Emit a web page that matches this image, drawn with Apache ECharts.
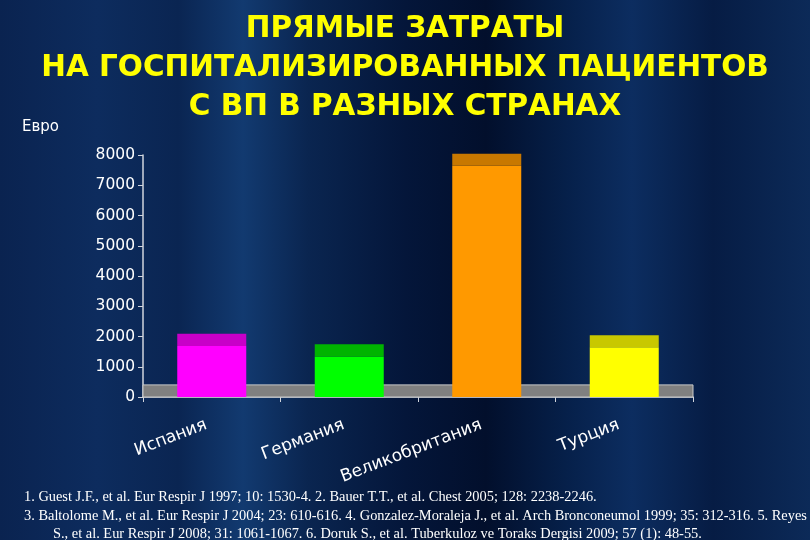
<!DOCTYPE html>
<html><head><meta charset="utf-8">
<script src="https://cdn.jsdelivr.net/npm/echarts@6/dist/echarts.min.js"></script>
<style>html,body{margin:0;padding:0;background:#061838;}#c{width:810px;height:540px;}</style>
</head><body><div id="c"></div>
<script>
const categories = ['Испания', 'Германия', 'Великобритания', 'Турция'];
const values = [2090, 1740, 8045, 2045];           // top of each 3D bar, euro
const capDepth = 400;                               // depth of the 3D top face, euro
const floorDepth = 400;                             // depth of the 3D floor, euro
const yTicks = {min: 0, max: 8000, interval: 1000};
const titleLines = ['ПРЯМЫЕ ЗАТРАТЫ', 'НА ГОСПИТАЛИЗИРОВАННЫХ ПАЦИЕНТОВ', 'С ВП В РАЗНЫХ СТРАНАХ'];
const unitLabel = 'Евро';
const footnotes = [
  '1. Guest J.F., et al. Eur Respir J 1997; 10: 1530-4. 2. Bauer T.T., et al. Chest 2005; 128: 2238-2246.',
  '3. Baltolome M., et al. Eur Respir J 2004; 23: 610-616. 4. Gonzalez-Moraleja J., et al. Arch Bronconeumol 1999; 35: 312-316. 5. Reyes',
  'S., et al. Eur Respir J 2008; 31: 1061-1067. 6. Doruk S., et al. Tuberkuloz ve Toraks Dergisi 2009; 57 (1): 48-55.'
];
const frontColors = ['#ff00ff', '#00ff00', '#ff9900', '#ffff00'];
const capColors = ['#c800c8', '#00b400', '#c87800', '#c8c800'];

const chart = echarts.init(document.getElementById('c'), null, {renderer: 'canvas'});
chart.setOption({
  backgroundColor: {
    type: 'linear', x: 0, y: 0, x2: 1, y2: 0,
    colorStops: [
      {offset: 0, color: '#0a2350'}, {offset: 0.12, color: '#0d2c5e'},
      {offset: 0.22, color: '#0a2552'}, {offset: 0.3, color: '#123a70'},
      {offset: 0.38, color: '#0a2550'}, {offset: 0.5, color: '#04163a'},
      {offset: 0.6, color: '#020f2c'}, {offset: 0.7, color: '#06204a'},
      {offset: 0.78, color: '#0c2d60'}, {offset: 0.88, color: '#061c44'},
      {offset: 1, color: '#0c2a58'}
    ]
  },
  animation: false,
  title: {
    text: titleLines.join('\n'),
    left: 'center', top: 5,
    textStyle: {color: '#ffff00', fontFamily: 'DejaVu Sans', fontWeight: 'bold', fontSize: 29.5, lineHeight: 39}
  },
  graphic: [
    {type: 'text', left: 22, top: 120, style: {text: unitLabel, fill: '#ffffff', font: '15px "DejaVu Sans"'}},
    {type: 'text', left: 24, top: 490, style: {text: footnotes[0], fill: '#ffffff', font: '14.4px "Liberation Serif"'}},
    {type: 'text', left: 24, top: 509, style: {text: footnotes[1], fill: '#ffffff', font: '14.4px "Liberation Serif"'}},
    {type: 'text', left: 53, top: 527, style: {text: footnotes[2], fill: '#ffffff', font: '14.4px "Liberation Serif"'}}
  ],
  grid: {left: 143, right: 117, top: 155, bottom: 143, containLabel: false},
  xAxis: {
    type: 'category', data: categories,
    axisLine: {lineStyle: {color: '#d0d4dc', width: 1.5}},
    axisTick: {show: true, alignWithLabel: false, length: 5, lineStyle: {color: '#d0d4dc'}},
    axisLabel: {color: '#ffffff', fontFamily: 'DejaVu Sans', fontSize: 17, rotate: 21, margin: 25, padding: [0, 6, 0, 0], interval: 0}
  },
  yAxis: {
    type: 'value', min: yTicks.min, max: yTicks.max, interval: yTicks.interval,
    splitLine: {show: false},
    axisLine: {show: true, lineStyle: {color: '#d0d4dc', width: 1.5}},
    axisTick: {show: true, length: 5, lineStyle: {color: '#d0d4dc'}},
    axisLabel: {color: '#ffffff', fontFamily: 'DejaVu Sans', fontSize: 15.5, margin: 8, formatter: v => String(v)}
  },
  series: [
    {
      type: 'line', data: [], z: 1, silent: true,
      markArea: {
        silent: true,
        itemStyle: {color: '#808080', borderColor: '#c8c8c8', borderWidth: 1},
        data: [[{yAxis: 0, x: 143}, {yAxis: floorDepth, x: 693}]]
      }
    },
    {
      type: 'bar', stack: 'b', barWidth: 69, z: 3, clip: false,
      data: values.map((v, i) => ({value: v - capDepth, itemStyle: {color: frontColors[i]}}))
    },
    {
      type: 'bar', stack: 'b', barWidth: 69, z: 3, clip: false,
      data: values.map((v, i) => ({value: capDepth, itemStyle: {color: capColors[i]}}))
    }
  ]
});
</script></body></html>
